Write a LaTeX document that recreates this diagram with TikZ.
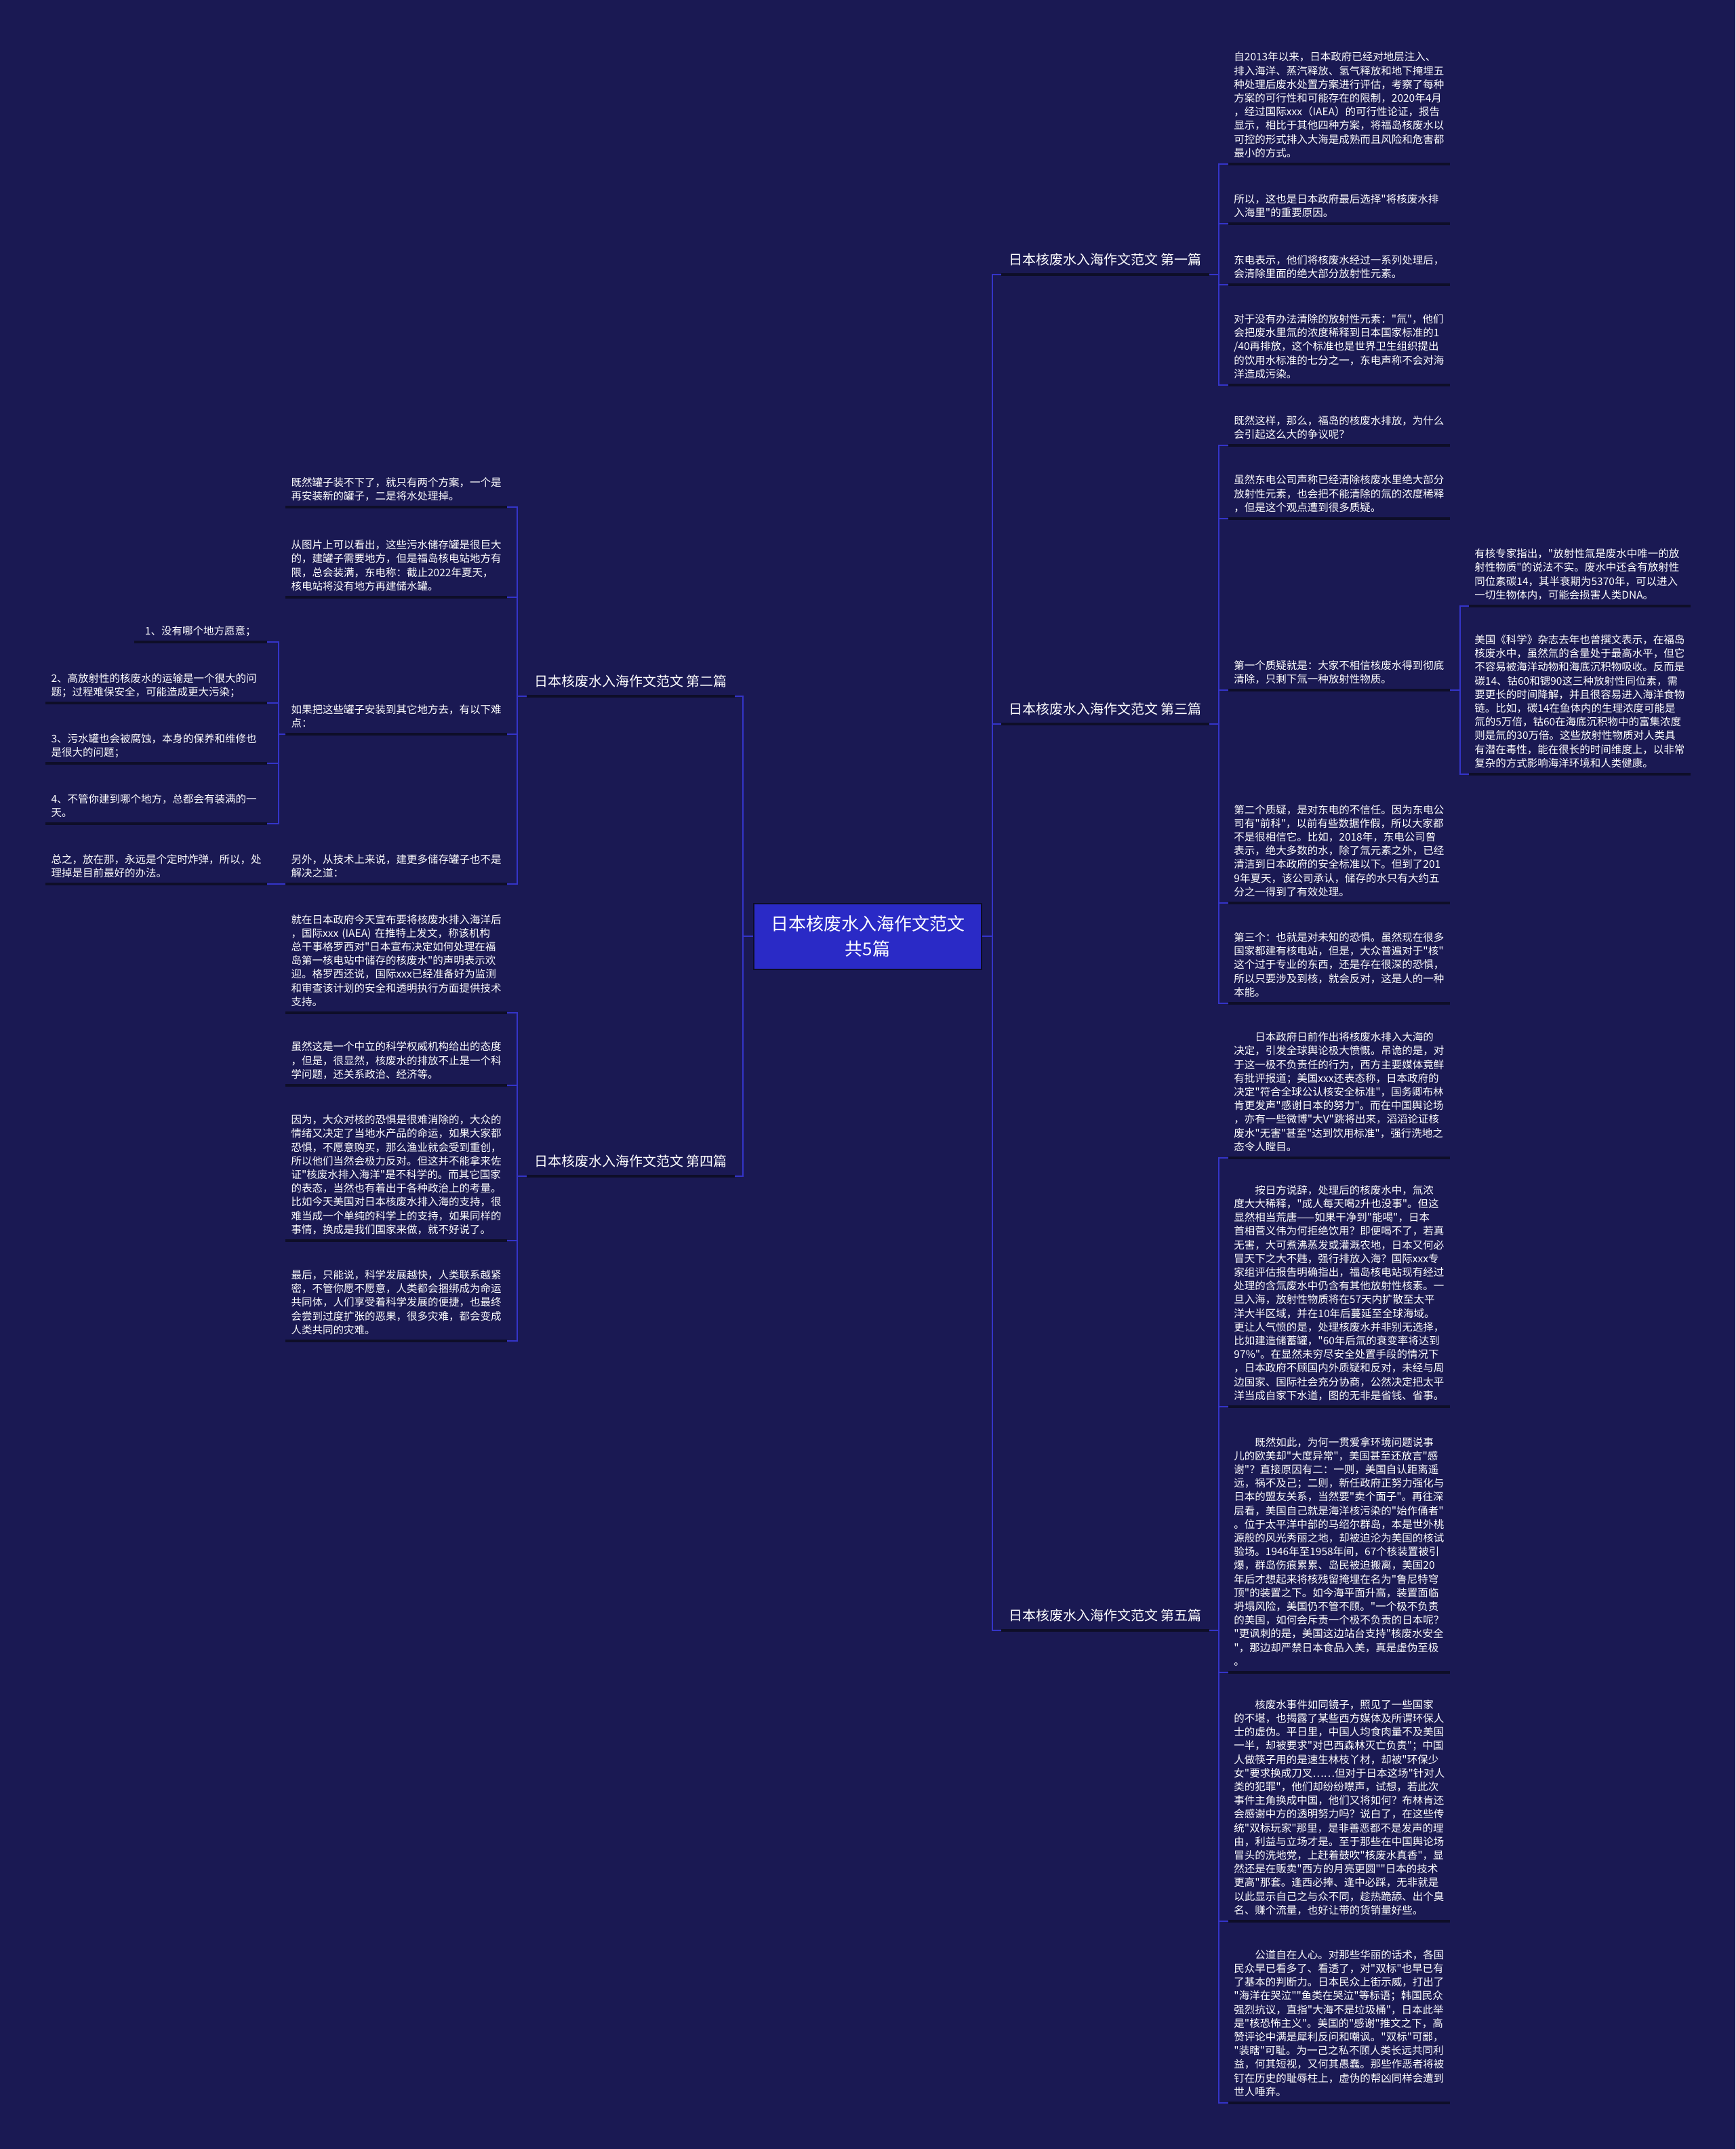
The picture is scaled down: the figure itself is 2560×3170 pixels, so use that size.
\documentclass[tikz,border=0pt]{standalone}
\usepackage{fontspec}
\setmainfont{Noto Sans CJK SC}[Ligatures=TeXOff]
\usetikzlibrary{calc}
\definecolor{bgcol}{HTML}{1A1953}
\definecolor{connblue}{HTML}{3434C8}
\definecolor{ulcol}{HTML}{0E0E28}
\definecolor{centerfill}{HTML}{2A2AC6}
\newcommand\leaffont{\fontsize{7.75pt}{10.1pt}\selectfont}
\newcommand\myindent{\hspace*{2em}}
\begin{document}
\begin{tikzpicture}[x=0.5pt,y=-0.5pt,
  conn/.style={draw=connblue,line width=1pt},
  uline/.style={draw=ulcol,line width=1.6pt},
  leafbase/.style={text=white,font=\leaffont,align=left,inner xsep=4pt,inner ysep=3.2pt,
    execute at end node={\rule[-2pt]{0pt}{2pt}}},
  leafR/.style={leafbase,text width=155pt,anchor=south west},
  leafL/.style={leafbase,text width=155pt,anchor=south east},
  leafshort/.style={leafbase,anchor=south east,inner xsep=8pt},
  branchR/.style={text=white,font=\fontsize{10pt}{12pt}\selectfont,inner xsep=5.5pt,inner ysep=5.2pt,text depth=2pt,anchor=south west},
  branchL/.style={branchR,anchor=south east},
  centerbox/.style={fill=centerfill,draw=ulcol,line width=1pt,text=white,align=center,
    font=\fontsize{13pt}{18.3pt}\selectfont,minimum width=168pt,minimum height=48.5pt,inner sep=0pt}]
\useasboundingbox (0,0) rectangle (2560,3170);
\fill[bgcol] (0,0) rectangle (2560,3170);

% centre
\node[centerbox] (c) at (1280,1381) {日本核废水入海作文范文\\共5篇};

% branches
\node[branchR] (b1) at (1477,405) {日本核废水入海作文范文 第一篇};
\node[branchR] (b3) at (1477,1068) {日本核废水入海作文范文 第三篇};
\node[branchR] (b5) at (1477,2405) {日本核废水入海作文范文 第五篇};
\node[branchL] (b2) at (1084,1027) {日本核废水入海作文范文 第二篇};
\node[branchL] (b4) at (1084,1735) {日本核废水入海作文范文 第四篇};

% ---------- branch 1 ----------
\node[leafR] (r1a) at (1812,242) {自2013年以来，日本政府已经对地层注入、\\排入海洋、蒸汽释放、氢气释放和地下掩埋五\\种处理后废水处置方案进行评估，考察了每种\\方案的可行性和可能存在的限制，2020年4月\\，经过国际xxx（IAEA）的可行性论证，报告\\显示，相比于其他四种方案，将福岛核废水以\\可控的形式排入大海是成熟而且风险和危害都\\最小的方式。};
\node[leafR] (r1b) at (1812,330) {所以，这也是日本政府最后选择"将核废水排\\入海里"的重要原因。};
\node[leafR] (r1c) at (1812,420) {东电表示，他们将核废水经过一系列处理后，\\会清除里面的绝大部分放射性元素。};
\node[leafR] (r1d) at (1812,568) {对于没有办法清除的放射性元素："氚"，他们\\会把废水里氚的浓度稀释到日本国家标准的1\\/40再排放，这个标准也是世界卫生组织提出\\的饮用水标准的七分之一，东电声称不会对海\\洋造成污染。};

% ---------- branch 3 ----------
\node[leafR] (r3a) at (1812,657) {既然这样，那么，福岛的核废水排放，为什么\\会引起这么大的争议呢？};
\node[leafR] (r3b) at (1812,765) {虽然东电公司声称已经清除核废水里绝大部分\\放射性元素，也会把不能清除的氚的浓度稀释\\，但是这个观点遭到很多质疑。};
\node[leafR] (r3c) at (1812,1018) {第一个质疑就是：大家不相信核废水得到彻底\\清除，只剩下氚一种放射性物质。};
\node[leafR] (r3c1) at (2167,894) {有核专家指出，"放射性氚是废水中唯一的放\\射性物质"的说法不实。废水中还含有放射性\\同位素碳14，其半衰期为5370年，可以进入\\一切生物体内，可能会损害人类DNA。};
\node[leafR] (r3c2) at (2167,1142) {美国《科学》杂志去年也曾撰文表示，在福岛\\核废水中，虽然氚的含量处于最高水平，但它\\不容易被海洋动物和海底沉积物吸收。反而是\\碳14、钴60和锶90这三种放射性同位素，需\\要更长的时间降解，并且很容易进入海洋食物\\链。比如，碳14在鱼体内的生理浓度可能是\\氚的5万倍，钴60在海底沉积物中的富集浓度\\则是氚的30万倍。这些放射性物质对人类具\\有潜在毒性，能在很长的时间维度上，以非常\\复杂的方式影响海洋环境和人类健康。};
\node[leafR] (r3d) at (1812,1332) {第二个质疑，是对东电的不信任。因为东电公\\司有"前科"，以前有些数据作假，所以大家都\\不是很相信它。比如，2018年，东电公司曾\\表示，绝大多数的水，除了氚元素之外，已经\\清洁到日本政府的安全标准以下。但到了201\\9年夏天，该公司承认，储存的水只有大约五\\分之一得到了有效处理。};
\node[leafR] (r3e) at (1812,1480) {第三个：也就是对未知的恐惧。虽然现在很多\\国家都建有核电站，但是，大众普遍对于"核"\\这个过于专业的东西，还是存在很深的恐惧，\\所以只要涉及到核，就会反对，这是人的一种\\本能。};

% ---------- branch 5 ----------
\node[leafR] (r5a) at (1812,1708) {\myindent 日本政府日前作出将核废水排入大海的\\决定，引发全球舆论极大愤慨。吊诡的是，对\\于这一极不负责任的行为，西方主要媒体竟鲜\\有批评报道；美国xxx还表态称，日本政府的\\决定"符合全球公认核安全标准"，国务卿布林\\肯更发声"感谢日本的努力"。而在中国舆论场\\，亦有一些微博"大V"跳将出来，滔滔论证核\\废水"无害"甚至"达到饮用标准"，强行洗地之\\态令人瞠目。};
\node[leafR] (r5b) at (1812,2075) {\myindent 按日方说辞，处理后的核废水中，氚浓\\度大大稀释，"成人每天喝2升也没事"。但这\\显然相当荒唐——如果干净到"能喝"，日本\\首相菅义伟为何拒绝饮用？即便喝不了，若真\\无害，大可煮沸蒸发或灌溉农地，日本又何必\\冒天下之大不韪，强行排放入海？国际xxx专\\家组评估报告明确指出，福岛核电站现有经过\\处理的含氚废水中仍含有其他放射性核素。一\\旦入海，放射性物质将在57天内扩散至太平\\洋大半区域，并在10年后蔓延至全球海域。\\更让人气愤的是，处理核废水并非别无选择，\\比如建造储蓄罐，"60年后氚的衰变率将达到\\97\%"。在显然未穷尽安全处置手段的情况下\\，日本政府不顾国内外质疑和反对，未经与周\\边国家、国际社会充分协商，公然决定把太平\\洋当成自家下水道，图的无非是省钱、省事。};
\node[leafR] (r5c) at (1812,2467) {\myindent 既然如此，为何一贯爱拿环境问题说事\\儿的欧美却"大度异常"，美国甚至还放言"感\\谢"？直接原因有二：一则，美国自认距离遥\\远，祸不及己；二则，新任政府正努力强化与\\日本的盟友关系，当然要"卖个面子"。再往深\\层看，美国自己就是海洋核污染的"始作俑者"\\。位于太平洋中部的马绍尔群岛，本是世外桃\\源般的风光秀丽之地，却被迫沦为美国的核试\\验场。1946年至1958年间，67个核装置被引\\爆，群岛伤痕累累、岛民被迫搬离，美国20\\年后才想起来将核残留掩埋在名为"鲁尼特穹\\顶"的装置之下。如今海平面升高，装置面临\\坍塌风险，美国仍不管不顾。"一个极不负责\\的美国，如何会斥责一个极不负责的日本呢？\\"更讽刺的是，美国这边站台支持"核废水安全\\"，那边却严禁日本食品入美，真是虚伪至极\\。};
\node[leafR] (r5d) at (1812,2834) {\myindent 核废水事件如同镜子，照见了一些国家\\的不堪，也揭露了某些西方媒体及所谓环保人\\士的虚伪。平日里，中国人均食肉量不及美国\\一半，却被要求"对巴西森林灭亡负责"；中国\\人做筷子用的是速生林枝丫材，却被"环保少\\女"要求换成刀叉……但对于日本这场"针对人\\类的犯罪"，他们却纷纷噤声，试想，若此次\\事件主角换成中国，他们又将如何？布林肯还\\会感谢中方的透明努力吗？说白了，在这些传\\统"双标玩家"那里，是非善恶都不是发声的理\\由，利益与立场才是。至于那些在中国舆论场\\冒头的洗地党，上赶着鼓吹"核废水真香"，显\\然还是在贩卖"西方的月亮更圆""日本的技术\\更高"那套。逢西必捧、逢中必踩，无非就是\\以此显示自己之与众不同，趁热跪舔、出个臭\\名、赚个流量，也好让带的货销量好些。};
\node[leafR] (r5e) at (1812,3102) {\myindent 公道自在人心。对那些华丽的话术，各国\\民众早已看多了、看透了，对"双标"也早已有\\了基本的判断力。日本民众上街示威，打出了\\"海洋在哭泣""鱼类在哭泣"等标语；韩国民众\\强烈抗议，直指"大海不是垃圾桶"，日本此举\\是"核恐怖主义"。美国的"感谢"推文之下，高\\赞评论中满是犀利反问和嘲讽。"双标"可鄙，\\"装瞎"可耻。为一己之私不顾人类长远共同利\\益，何其短视，又何其愚蠢。那些作恶者将被\\钉在历史的耻辱柱上，虚伪的帮凶同样会遭到\\世人唾弃。};

% ---------- branch 2 ----------
\node[leafL] (l2a) at (748,748) {既然罐子装不下了，就只有两个方案，一个是\\再安装新的罐子，二是将水处理掉。};
\node[leafL] (l2b) at (748,881) {从图片上可以看出，这些污水储存罐是很巨大\\的，建罐子需要地方，但是福岛核电站地方有\\限，总会装满，东电称：截止2022年夏天，\\核电站将没有地方再建储水罐。};
\node[leafL] (l2c) at (748,1083) {如果把这些罐子安装到其它地方去，有以下难\\点：};
\node[leafL] (l2d) at (748,1304) {另外，从技术上来说，建更多储存罐子也不是\\解决之道：};
\node[leafshort] (l2c1) at (394,947) {1、没有哪个地方愿意；};
\node[leafL] (l2c2) at (394,1037) {2、高放射性的核废水的运输是一个很大的问\\题；过程难保安全，可能造成更大污染；};
\node[leafL] (l2c3) at (394,1126) {3、污水罐也会被腐蚀，本身的保养和维修也\\是很大的问题；};
\node[leafL] (l2c4) at (394,1215) {4、不管你建到哪个地方，总都会有装满的一\\天。};
\node[leafL] (l2d1) at (394,1304) {总之，放在那，永远是个定时炸弹，所以，处\\理掉是目前最好的办法。};

% ---------- branch 4 ----------
\node[leafL] (l4a) at (748,1494) {就在日本政府今天宣布要将核废水排入海洋后\\，国际xxx (IAEA) 在推特上发文，称该机构\\总干事格罗西对"日本宣布决定如何处理在福\\岛第一核电站中储存的核废水"的声明表示欢\\迎。格罗西还说，国际xxx已经准备好为监测\\和审查该计划的安全和透明执行方面提供技术\\支持。};
\node[leafL] (l4b) at (748,1601) {虽然这是一个中立的科学权威机构给出的态度\\，但是，很显然，核废水的排放不止是一个科\\学问题，还关系政治、经济等。};
\node[leafL] (l4c) at (748,1830) {因为，大众对核的恐惧是很难消除的，大众的\\情绪又决定了当地水产品的命运，如果大家都\\恐惧，不愿意购买，那么渔业就会受到重创，\\所以他们当然会极力反对。但这并不能拿来佐\\证"核废水排入海洋"是不科学的。而其它国家\\的表态，当然也有着出于各种政治上的考量。\\比如今天美国对日本核废水排入海的支持，很\\难当成一个单纯的科学上的支持，如果同样的\\事情，换成是我们国家来做，就不好说了。};
\node[leafL] (l4d) at (748,1978) {最后，只能说，科学发展越快，人类联系越紧\\密，不管你愿不愿意，人类都会捆绑成为命运\\共同体，人们享受着科学发展的便捷，也最终\\会尝到过度扩张的恶果，很多灾难，都会变成\\人类共同的灾难。};

% ---------- underlines ----------
\foreach \n in {b1,b2,b3,b4,b5,r1a,r1b,r1c,r1d,r3a,r3b,r3c,r3c1,r3c2,r3d,r3e,r5a,r5b,r5c,r5d,r5e,l2a,l2b,l2c,l2d,l2c1,l2c2,l2c3,l2c4,l2d1,l4a,l4b,l4c,l4d}
  \draw[uline] (\n.south west) -- (\n.south east);

% ---------- connectors ----------
\foreach \b in {b1,b3,b5} \draw[conn] (c.east) -- ++(15,0) |- (\b.south west);
\foreach \b in {b2,b4} \draw[conn] (c.west) -- ++(-15,0) |- (\b.south east);
\foreach \k in {r1a,r1b,r1c,r1d} \draw[conn] (b1.south east) -- ++(14,0) |- (\k.south west);
\foreach \k in {r3a,r3b,r3c,r3d,r3e} \draw[conn] (b3.south east) -- ++(14,0) |- (\k.south west);
\foreach \k in {r5a,r5b,r5c,r5d,r5e} \draw[conn] (b5.south east) -- ++(14,0) |- (\k.south west);
\foreach \k in {r3c1,r3c2} \draw[conn] (r3c.south east) -- ++(15,0) |- (\k.south west);
\foreach \k in {l2a,l2b,l2c,l2d} \draw[conn] (b2.south west) -- ++(-14,0) |- (\k.south east);
\foreach \k in {l4a,l4b,l4c,l4d} \draw[conn] (b4.south west) -- ++(-14,0) |- (\k.south east);
\foreach \k in {l2c1,l2c2,l2c3,l2c4} \draw[conn] (l2c.south west) -- ++(-10,0) |- (\k.south east);
\draw[conn] (l2d.south west) -- (l2d1.south east);
\end{tikzpicture}
\end{document}
